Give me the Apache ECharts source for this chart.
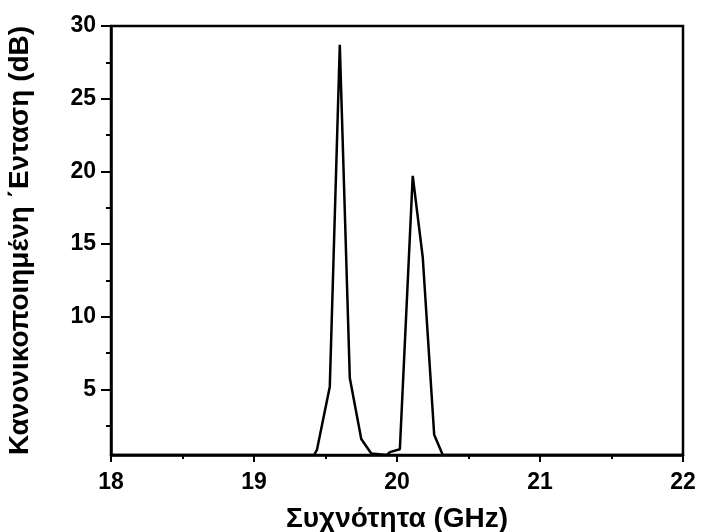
<!DOCTYPE html>
<html>
<head>
<meta charset="utf-8">
<script src="https://cdn.jsdelivr.net/npm/echarts@6/dist/echarts.min.js"></script>
<style>
  html, body { margin: 0; padding: 0; background: #fff; }
  #chart { width: 702px; height: 532px; }
</style>
</head>
<body>
<div id="chart"></div>
<script>
// frequency (GHz) and normalised intensity (dB)
var freq = [18, 19.42, 19.44, 19.53, 19.60, 19.67, 19.75, 19.82, 19.93, 19.95, 20.02, 20.11, 20.18, 20.26, 20.32, 22];
var level = [0.5, 0.5, 0.85, 5.2, 28.7, 5.8, 1.6, 0.6, 0.5, 0.7, 0.9, 19.7, 14.1, 1.9, 0.5, 0.5];
var yMajor = [5, 10, 15, 20, 25, 30];
var yMinor = [2.5, 7.5, 12.5, 17.5, 22.5, 27.5];

var points = [];
for (var i = 0; i < freq.length; i++) {
    points.push([freq[i], level[i]]);
}

var chart = echarts.init(document.getElementById('chart'));

var font = 'Liberation Sans, Arial, sans-serif';

chart.setOption({
    animation: false,
    grid: {
        left: 111,
        right: 19,
        top: 26,
        bottom: 77,
        outerBoundsMode: 'none',
        show: true,
        borderColor: '#000',
        borderWidth: 2.5
    },
    xAxis: {
        type: 'value',
        min: 18,
        max: 22,
        interval: 1,
        name: 'Συχνότητα (GHz)',
        nameLocation: 'middle',
        nameGap: 50,
        nameTextStyle: { color: '#000', fontFamily: font, fontWeight: 'bold', fontSize: 28 },
        axisLine: { lineStyle: { color: '#000', width: 2.5 } },
        axisTick: { inside: false, length: 7, lineStyle: { color: '#000', width: 2 } },
        minorTick: { show: true, splitNumber: 2, length: 4, lineStyle: { color: '#000', width: 2 } },
        splitLine: { show: false },
        axisLabel: { color: '#000', fontFamily: font, fontWeight: 'bold', fontSize: 23, margin: 16 }
    },
    yAxis: [
        {
            type: 'value',
            min: 0.5,
            max: 30,
            name: 'Κανονικοποιημένη ΄Ενταση (dB)',
            nameLocation: 'middle',
            nameGap: 77,
            nameTextStyle: { color: '#000', fontFamily: font, fontWeight: 'bold', fontSize: 28 },
            axisLine: { lineStyle: { color: '#000', width: 2.5 } },
            axisTick: { inside: false, length: 10, customValues: yMajor, lineStyle: { color: '#000', width: 2 } },
            splitLine: { show: false },
            axisLabel: { color: '#000', fontFamily: font, fontWeight: 'bold', fontSize: 23, margin: 15, customValues: yMajor }
        },
        {
            // minor ticks only
            type: 'value',
            min: 0.5,
            max: 30,
            position: 'left',
            axisLine: { show: false },
            axisTick: { inside: false, length: 5, customValues: yMinor, lineStyle: { color: '#000', width: 2 } },
            axisLabel: { show: false },
            splitLine: { show: false }
        }
    ],
    series: [
        {
            type: 'line',
            data: points,
            showSymbol: false,
            lineStyle: { color: '#000', width: 2.5 },
            clip: true
        }
    ]
});
</script>
</body>
</html>
